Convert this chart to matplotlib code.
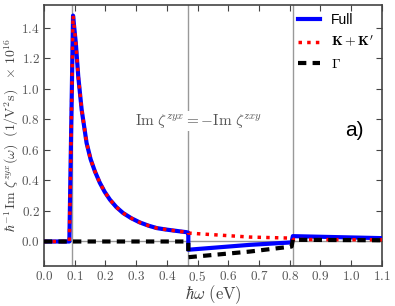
import numpy as np
import matplotlib
matplotlib.use("Agg")
import matplotlib.pyplot as plt

plt.rcParams["mathtext.fontset"] = "cm"
plt.rcParams["font.family"] = ["Liberation Sans", "DejaVu Sans"]

# main peak, shared by Full and K+K' below the first threshold
omega_peak = [0.0, 0.083, 0.095, 0.099, 0.104, 0.112, 0.123, 0.139, 0.152,
              0.166, 0.182, 0.198, 0.215, 0.236, 0.258, 0.285, 0.312, 0.34,
              0.367, 0.395, 0.421, 0.444, 0.464, 0.47]
val_peak = [0.0, 0.0, 1.48, 1.40, 1.30, 1.08, 0.864, 0.646, 0.54,
            0.46, 0.385, 0.325, 0.274, 0.225, 0.186, 0.152, 0.125, 0.104,
            0.088, 0.079, 0.072, 0.066, 0.061, 0.058]

# tails above 0.47 eV
omega_full_tail = [0.47, 0.67, 0.806, 0.81, 1.1]
val_full_tail = [-0.054, -0.022, -0.006, 0.035, 0.022]

omega_kk_tail = [0.47, 0.67, 0.806, 0.81, 1.1]
val_kk_tail = [0.055, 0.029, 0.022, 0.013, 0.011]

omega_gamma = [0.0, 0.47, 0.47, 0.67, 0.806, 0.81, 1.1]
val_gamma = [0.0, 0.0, -0.103, -0.066, -0.033, 0.011, 0.008]

thresholds = [0.09, 0.47, 0.81]

omega_full = omega_peak + omega_full_tail
val_full = val_peak + val_full_tail
omega_kk = omega_peak + omega_kk_tail
val_kk = val_peak + val_kk_tail

fig = plt.figure(figsize=(3.95, 3.06), dpi=100)
ax = fig.add_axes([0.111, 0.131, 0.856, 0.853])

for t in thresholds:
    ax.axvline(t, color="#999999", lw=1.0, zorder=1)
ax.axhline(0.0, color="#999999", lw=1.0, zorder=1)

ax.plot(omega_full, val_full, color="blue", lw=3, label="Full", zorder=3)
ax.plot(omega_kk, val_kk, color="red", lw=2.5, ls=(0, (1, 1.5)),
        label=r"$\mathbf{K}+\mathbf{K}'$", zorder=4)
ax.plot(omega_gamma, val_gamma, color="black", lw=3, ls=(0, (2, 1.5)),
        label=r"$\mathbf{\Gamma}$", zorder=5)

ax.set_xlim(0.0, 1.1)
ax.set_ylim(-0.16, 1.55)
ax.set_xticks(np.arange(0, 1.11, 0.1))
ax.set_yticks(np.arange(0, 1.41, 0.2))
ax.set_xticklabels([rf"${v:.1f}$" for v in np.arange(0, 1.11, 0.1)])
ax.set_yticklabels([rf"${v:.1f}$" for v in np.arange(0, 1.41, 0.2)])
ax.tick_params(direction="in", top=True, right=True, labelsize=9.5,
               labelcolor="#555555", color="#444444", length=4, pad=3)
for s in ax.spines.values():
    s.set_color("#444444")
    s.set_linewidth(1.2)

ax.set_xlabel(r"$\hbar\omega\ (\mathrm{eV})$", fontsize=12, color="#444444")
ax.xaxis.set_label_coords(0.5, -0.066)
ax.set_ylabel(r"$\hbar^{-1}\,\mathrm{Im}\ \zeta^{zyx}(\omega)\ \ (1/\mathrm{V}^2\mathrm{s})\ \ \times\,10^{16}$",
              fontsize=10, color="#444444")
ax.yaxis.set_label_coords(-0.068, 0.5)

ax.text(0.503, 0.79, r"$\mathrm{Im}\ \zeta^{zyx} = -\mathrm{Im}\ \zeta^{zxy}$",
        fontsize=11, color="#555555", ha="center", va="center",
        bbox=dict(facecolor="white", edgecolor="none", pad=1), zorder=6)
ax.text(1.01, 0.73, "a)", fontsize=15, ha="center", va="center")

leg = ax.legend(loc="upper right", frameon=False, fontsize=10,
                handlelength=1.6, borderaxespad=0.2, labelspacing=0.5)

fig.savefig("out.png", dpi=100)
